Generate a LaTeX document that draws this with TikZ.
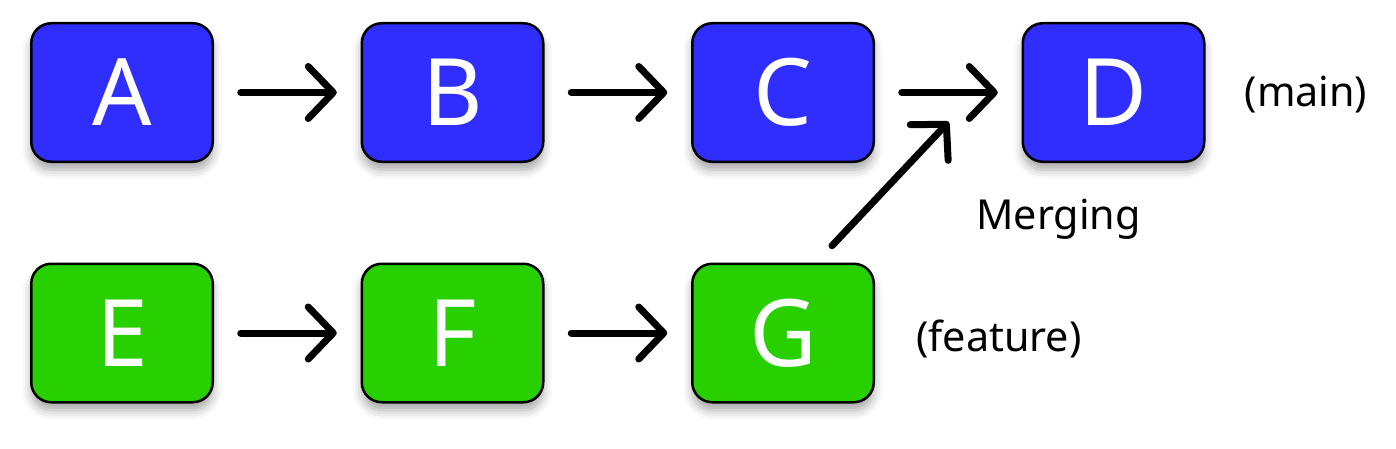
\documentclass[tikz,border=0pt]{standalone}
\usepackage{fontspec}
\setmainfont{Noto Sans}
\usepackage{xcolor}
\usetikzlibrary{positioning, arrows.meta, shadows.blur}

\definecolor{mainblue}{RGB}{48,46,255}
\definecolor{featgreen}{RGB}{40,208,0}

\begin{document}
\begin{tikzpicture}[
    commit/.style={rectangle, rounded corners=0.4cm, draw=black, line width=0.05cm,
        minimum width=3.63cm, minimum height=2.77cm, outer sep=0pt, text=white,
        font=\fontsize{53}{60}\selectfont,
        blur shadow={shadow xshift=0pt, shadow yshift=-0.16cm, shadow blur radius=0.18cm, shadow opacity=35}},
    maincommit/.style={commit, fill=mainblue},
    featcommit/.style={commit, fill=featgreen},
    branchlabel/.style={inner sep=0pt, font=\fontsize{23.5}{28}\selectfont},
    link/.style={-{Straight Barb[length=0.5cm, width=1.04cm, round]}, line width=0.14cm,
        line cap=round, shorten <=0.56cm, shorten >=0.5cm}]
    \useasboundingbox (0,0) rectangle (27.92,-8.98);

    % main branch
    \node[maincommit] (A) at (2.44,-1.85) {A};
    \node[maincommit, right=2.98cm of A] (B) {B};
    \node[maincommit, right=2.98cm of B] (C) {C};
    \node[maincommit, right=2.98cm of C] (D) {D};
    \node[branchlabel, right=0.8cm of D, yshift=-0.04cm] (mainlbl) {(main)};

    % feature branch
    \node[featcommit, below=2.04cm of A] (E) {E};
    \node[featcommit, right=2.98cm of E] (F) {F};
    \node[featcommit, right=2.98cm of F] (G) {G};
    \node[branchlabel, right=0.84cm of G, yshift=-0.12cm] (featlbl) {(feature)};

    \draw[link] (A.east) -- (B.west);
    \draw[link] (B.east) -- (C.west);
    \draw[link] (C.east) -- (D.west);
    \draw[link] (E.east) -- (F.west);
    \draw[link] (F.east) -- (G.west);

    % merge
    \draw[link, shorten <=0pt, shorten >=0pt] ([xshift=0.98cm, yshift=0.36cm]G.north)
        -- ([xshift=-1.48cm, yshift=0.8cm]D.south west);
    \node[branchlabel] (mergelbl) at ([xshift=-1.1cm, yshift=-1.14cm]D.south) {Merging};
\end{tikzpicture}
\end{document}
